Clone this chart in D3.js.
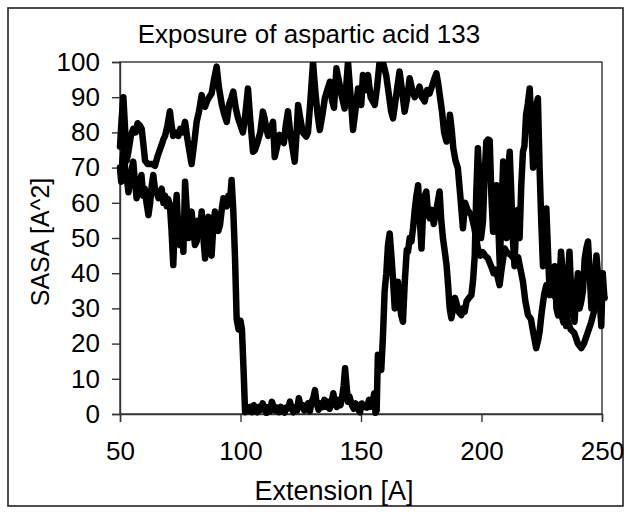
<!DOCTYPE html>
<html>
<head>
<meta charset="utf-8">
<script src="https://cdn.jsdelivr.net/npm/d3@7/dist/d3.min.js"></script>
<style>
  html, body { margin: 0; padding: 0; background: #fff; }
  svg { display: block; }
  text { font-family: "Liberation Sans", Arial, sans-serif; fill: #000; }
</style>
</head>
<body>
<svg id="chart" width="625" height="513"></svg>
<script>
// Solvent accessible surface area of Asp133 versus pulling extension, two runs.
const title = "Exposure of aspartic acid 133";
const xLabel = "Extension [A]";
const yLabel = "SASA [A^2]";
const xTicks = [50, 100, 150, 200, 250];
const yTicks = [0, 10, 20, 30, 40, 50, 60, 70, 80, 90, 100];

// Run 1: stays exposed until ~182 A, then partially buried
const extA = [50,50.7,51.4,52.2,52.8,53.6,54.5,55.5,56.5,57.3,58.2,59,59.8,60.4,61.5,62.5,63.5,64.5,65.5,66.5,67.3,68,68.7,69.7,70.7,71.4,72.1,73,74.2,75,76,77,78,79.7,80.8,81.8,82.8,83.9,84.6,85.3,86.2,87,88,89,90.1,91,92.2,93.3,94.3,95.3,96.3,97,98,99,100,100.5,101,102,103.1,104,105.2,106,107,108.2,109.3,110,110.7,111.5,112.5,113.5,114.2,115.2,116.2,117,118,118.8,119.7,120.6,121.5,122.5,123.2,123.9,124.8,125.8,127.3,128,129,130.1,131,132,132.9,134,135,136,137.1,138,138.8,139.8,141,141.9,143.2,144.6,145.5,146.7,148,148.8,150.1,150.8,152,152.9,154,155.7,156.7,157.7,159.1,160.5,161.5,162.5,163.3,164.5,165.3,166,167,168.1,169.2,170.2,171.3,172.3,173.3,174.3,175.3,176.4,177.4,178.4,179.4,180.3,181.3,182,182.8,183.6,184.5,185.5,186.2,186.9,187.6,188.3,189.2,190.2,191.2,192.3,193.2,194.2,195.8,197,198.5,199.5,200.5,201.5,202.7,204,205,206,207.5,208.5,209.6,210.5,211.5,212.4,213.5,215.2,216.2,217.2,218.2,219.3,220.5,221.5,222.7,223.5,224.1,225,226,226.9,228,229.5,231,232.5,234,235.5,237,238.5,240,241.4,242.5,244.2,245.5,247,248.5,250,251];
const sasaA = [76,84,90,80,72,75,79,81,80,82.6,82,81,76,72,71,71,71,70.5,73,75,76.5,78,79,82,86,82,79,80,79,81,80,83,78,71,77,83,86,90.6,88,87.3,89,90,91,95,98.7,93,88,85,83,88,90,91.6,87,84,82,81,80,85,92.5,84,74.5,75,77,80,85.9,84,81,79,81,83,73,76,79.3,78,77,82,86,80,76,71.7,79,87.8,84,80,78.8,80,89,100,92,85,80.7,85,89.7,92,94.4,89,87,98.2,94,90.6,86.8,100,92,80.7,88,92.5,87.8,96.3,92,96.3,90,87.8,93,100,100,96,91,86,84,90,94,97.3,92,85.9,90,95.4,92,90,91,93,90,88.8,92,91,93,95,96.8,94,90,86,80,77.4,80,85,81,75.5,72,69.8,62,52.8,60,58,56.5,53,47,45,46,45,44.2,42,40,41,36.6,42,47,46,45.5,45,44,44.5,41,37.6,32,28.1,27,23,18.7,21,23.4,29,34,36.6,35,34,33,30,26,27,24,23,20,18.7,20,23.4,26,30,32,33,33];

// Run 2: buried between ~101 and ~157 A, strongly fluctuating afterwards
const extB = [50,50.5,51,51.6,52.2,53,53.5,54.3,55,55.5,56.2,56.9,57.5,58.2,58.9,59.6,60.3,61,61.8,62.5,63.2,63.8,64.5,65.2,66,66.7,67.3,68,68.7,69.4,70,70.7,71.4,72.1,72.8,73.5,74.2,74.9,75.6,76.3,77,77.7,78.4,79,79.7,80.5,81.1,81.8,82.5,83.2,83.9,84.6,85.3,86,86.7,87.3,88,88.7,89.4,90.1,90.8,91.5,92.2,92.9,93.6,94.3,95,95.6,96.3,97,97.7,98.4,99.2,100,100.6,101.3,101.9,102.5,103.2,104,104.8,105.5,106.2,107,107.8,108.5,109.2,110,110.8,111.5,112.3,113,113.8,114.5,115.3,116,116.8,117.5,118.3,119,119.8,120.5,121.2,122,122.8,123.5,124.2,125,125.8,126.5,127.3,128,128.8,129.5,130.2,130.9,131.6,132.4,133.1,134,134.8,135.5,136.3,137,137.7,138.5,139.2,140,140.7,141.5,142.2,142.8,143.4,144,144.6,145.2,146.2,147,147.8,148.6,149.6,150.3,151,151.8,152.5,153.3,154,154.8,155.5,156,156.5,157,157.7,158.4,159.1,159.8,160.5,161.2,161.9,162.6,163.3,164,164.7,165.3,166,166.7,167.4,168.2,169,169.5,170.2,170.9,171.6,172.3,173,173.7,174.4,175.1,175.8,176.4,177.1,177.8,178.5,179.3,180.2,181,181.8,182.6,183.3,184,184.8,185.5,186.2,186.8,187.5,188.2,189,189.8,190.6,191.6,192.3,193,193.8,194.8,195.8,196.5,197.2,197.8,198.5,199.2,199.8,200.6,201.3,202,202.7,203.4,204.1,204.8,205.5,206.2,206.9,207.6,208.3,209,209.7,210.4,211,211.7,212.4,213,213.7,214.4,215.1,215.8,216.5,217.2,217.8,218.5,219.2,220,220.7,221.4,222.1,222.8,223.4,224.1,224.8,225.5,226.2,226.9,227.6,228.3,229,229.7,230.4,231.1,231.8,232.4,233,233.7,234.4,235.1,235.8,236.5,237.2,237.9,238.6,239.3,240,240.7,241.4,242.1,242.8,243.5,244.2,244.9,245.6,246.3,247,247.7,248.3,249,249.7,250.3,251];
const sasaB = [70,66,72,75,69,66,63,67,70,71.7,66,61.3,64,66,67.9,62,64,60,56.5,60,65,67.9,64,63,61.3,63,64,60,62,59,61,59.4,52,42.3,55,62.2,52,48,55,46.1,66,58,50,55,57.5,52,48,49,55,52,57.5,50,44.2,52,56,47,45,53,57.5,54,52,53.7,58,61.3,60,59,62,60,66.5,58,45,27,24,26.5,24,12,0.5,1.5,0.8,2,0.5,2.5,1.5,0.5,2,1.2,3,1.5,0.3,2,0.8,3.5,2,1,1.8,0.5,2,1.2,0.4,1.8,1.6,3.5,1.5,0.5,2,1,4.5,2,2.5,1,2,3,0.8,3.5,4.5,6.8,3,1.2,3,2,4,2,3.5,1.5,3,5.9,3,2,4,2.5,5,8,13,8,3.5,5,2.5,1.5,3,1.5,0.5,3,2,2.5,1.8,4,2,3.5,5.9,0.3,1,16.8,14,12.5,22,34.8,40,48,51.3,45,38,30,33,37.6,32,28,26.2,38,46.6,46.1,50,49,52.8,58,62,65,55,47,58,62,63.2,57,55.6,58,54,57,60,63.2,55,50,46,42.3,36,30,27.2,30,33,31,29,28.1,30,29,32,33,33.8,38,45,62,75.5,65,50,54.6,68,77.4,78,77.8,62,51.8,58,65,55,42,58,71.7,62,50,68,74.5,62,50,42,55,58,50,65,74.5,76,85,88,92.5,82,70,82,88,89.7,70,54.6,42,50,58.4,46,33.8,38,36,42,30,28,38,46.1,40,30,25,38,46.1,35,28,26.2,35,40,30,32,35,44,47,49,40,30,32,38,45,40,33,25,40,33];

const plot = { left: 120, top: 62, right: 602, bottom: 414 };

const svg = d3.select("#chart");

// outer chart border
svg.append("rect")
  .attr("x", 8).attr("y", 8)
  .attr("width", 615).attr("height", 498)
  .attr("fill", "none").attr("stroke", "#222").attr("stroke-width", 1.6);

const x = d3.scaleLinear().domain([50, 250]).range([plot.left, plot.right]);
const y = d3.scaleLinear().domain([0, 100]).range([plot.bottom, plot.top]);

// plot area frame
svg.append("rect")
  .attr("x", plot.left).attr("y", plot.top)
  .attr("width", plot.right - plot.left).attr("height", plot.bottom - plot.top)
  .attr("fill", "none").attr("stroke", "#333").attr("stroke-width", 1.4);

// axes
const xAxis = d3.axisBottom(x).tickValues(xTicks).tickSize(8).tickPadding(20).tickFormat(d3.format("d"));
const yAxis = d3.axisLeft(y).tickValues(yTicks).tickSize(8).tickPadding(12).tickFormat(d3.format("d"));

const gx = svg.append("g").attr("transform", `translate(0,${plot.bottom})`).call(xAxis);
const gy = svg.append("g").attr("transform", `translate(${plot.left},0)`).call(yAxis);
[gx, gy].forEach(g => {
  g.select(".domain").attr("stroke", "#333").attr("stroke-width", 1.4);
  g.selectAll(".tick line").attr("stroke", "#333").attr("stroke-width", 1.4);
  g.selectAll(".tick text")
    .attr("font-family", "Liberation Sans, Arial, sans-serif")
    .attr("font-size", 26).attr("fill", "#000");
});

// clip the data lines to the plotting area
svg.append("clipPath").attr("id", "plotClip")
  .append("rect")
  .attr("x", plot.left - 4).attr("y", plot.top)
  .attr("width", plot.right - plot.left + 10).attr("height", plot.bottom - plot.top + 2);

const line = d3.line().x(d => x(d[0])).y(d => y(d[1]));
const seriesList = [d3.zip(extA, sasaA), d3.zip(extB, sasaB)];

svg.append("g").attr("clip-path", "url(#plotClip)")
  .selectAll("path").data(seriesList).join("path")
  .attr("d", line)
  .attr("fill", "none")
  .attr("stroke", "#000")
  .attr("stroke-width", 6.5)
  .attr("stroke-linejoin", "round")
  .attr("stroke-linecap", "round");

// titles
svg.append("text")
  .attr("x", 309).attr("y", 43)
  .attr("text-anchor", "middle").attr("font-size", 26)
  .text(title);

svg.append("text")
  .attr("x", 334).attr("y", 500)
  .attr("text-anchor", "middle").attr("font-size", 27)
  .text(xLabel);

svg.append("text")
  .attr("transform", `translate(49,${(plot.top + plot.bottom) / 2 + 4}) rotate(-90)`)
  .attr("text-anchor", "middle").attr("font-size", 25)
  .text(yLabel);
</script>
</body>
</html>
